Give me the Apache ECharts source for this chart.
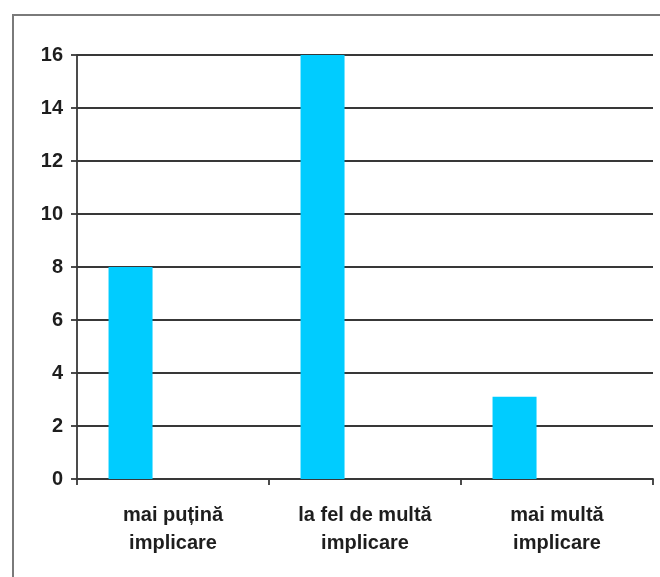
<!DOCTYPE html>
<html>
<head>
<meta charset="utf-8">
<script src="https://cdn.jsdelivr.net/npm/echarts@6/dist/echarts.min.js"></script>
<style>
  html, body { margin: 0; padding: 0; background: #fff; }
  #frame {
    position: absolute; left: 12px; top: 14px; width: 700px; height: 620px;
    border-left: 2px solid #7a7a7a; border-top: 2px solid #7a7a7a;
  }
  #chart { position: absolute; left: 0; top: 0; width: 660px; height: 577px; }
</style>
</head>
<body>
<div id="frame"></div>
<div id="chart"></div>
<script>
// categories and values
var categories = ["mai puțină\nimplicare", "la fel de multă\nimplicare", "mai multă\nimplicare"];
var values = [8, 16, 3.1];
var yTicks = [0, 2, 4, 6, 8, 10, 12, 14, 16];

var lineColor = "#383838";
var chart = echarts.init(document.getElementById("chart"));
chart.setOption({
  animation: false,
  grid: { left: 77, right: 7, top: 55, bottom: 98 },
  xAxis: {
    type: "category",
    data: categories,
    axisLine: { lineStyle: { color: lineColor, width: 1.8 } },
    axisTick: { show: true, length: 6, lineStyle: { color: lineColor, width: 1.8 } },
    axisLabel: {
      color: "#1e1e1e",
      fontFamily: "Liberation Sans, Arial, sans-serif",
      fontWeight: "bold",
      fontSize: 20,
      lineHeight: 28,
      margin: 22
    }
  },
  yAxis: {
    type: "value",
    min: yTicks[0],
    max: yTicks[yTicks.length - 1],
    interval: 2,
    axisLine: { show: true, lineStyle: { color: lineColor, width: 1.8 } },
    axisTick: { show: true, length: 6, lineStyle: { color: lineColor, width: 1.8 } },
    splitLine: { show: true, lineStyle: { color: lineColor, width: 1.8 } },
    axisLabel: {
      color: "#1e1e1e",
      fontFamily: "Liberation Sans, Arial, sans-serif",
      fontWeight: "bold",
      fontSize: 20,
      margin: 14
    }
  },
  series: [
    {
      type: "bar",
      data: values,
      barWidth: 44,
      barGap: "93%",
      itemStyle: { color: "#00CCFF" }
    },
    {
      // empty spacer series, keeps the bars on the left of each category
      type: "bar",
      data: values.map(function () { return null; }),
      barWidth: 44
    }
  ]
});
</script>
</body>
</html>
